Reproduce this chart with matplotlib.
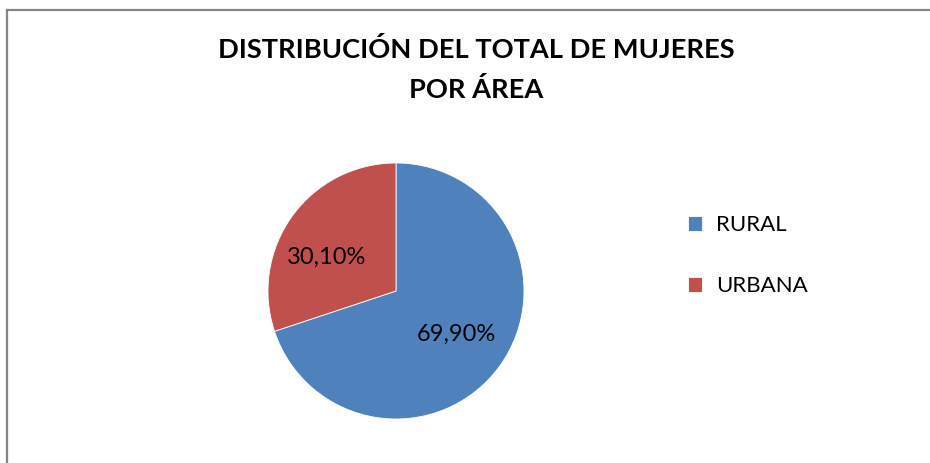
import matplotlib.pyplot as plt
from matplotlib.lines import Line2D

plt.rcParams['font.family'] = ['Lato', 'DejaVu Sans']

# Datos
areas = ['RURAL', 'URBANA']
porcentajes = [69.9, 30.1]
colores = ['#4F81BD', '#C0504D']

fig = plt.figure(figsize=(9.3, 4.63), dpi=100)
fig.patch.set_facecolor('white')

# borde del gráfico (sólo arriba e izquierda visibles)
fig.add_artist(Line2D([7 / 930, 1], [1 - 10 / 463, 1 - 10 / 463], color='#868686', lw=1.6))
fig.add_artist(Line2D([7 / 930, 7 / 930], [0, 1 - 10 / 463], color='#868686', lw=1.6))

# Título
fig.text(476 / 930, 1 - 50 / 463, 'DISTRIBUCIÓN DEL TOTAL DE MUJERES',
         ha='center', va='center', fontsize=19.6, fontweight='bold')
fig.text(476 / 930, 1 - 90 / 463, 'POR ÁREA',
         ha='center', va='center', fontsize=19.6, fontweight='bold')

# Pastel
ax = fig.add_axes([268 / 930, 1 - 419 / 463, 256 / 930, 256 / 463])
cunas, textos, autotextos = ax.pie(
    porcentajes, colors=colores, startangle=90, counterclock=False,
    autopct=lambda p: f'{p:.2f}%'.replace('.', ','), pctdistance=0.58,
    wedgeprops=dict(edgecolor='white', linewidth=0.6),
    textprops=dict(fontsize=17, color='black'))
# etiqueta de URBANA un poco más abajo, como en Excel
autotextos[1].set_position((-0.54, 0.26))
ax.set_xlim(-1, 1)
ax.set_ylim(-1, 1)
ax.set_aspect('equal')

ax.legend(cunas, areas, loc='upper left', bbox_to_anchor=(688 / 930, 1 - 215 / 463),
          bbox_transform=fig.transFigure, frameon=False, fontsize=16,
          handlelength=0.65, handleheight=0.65, handletextpad=0.6,
          labelspacing=1.85, borderpad=0, borderaxespad=0)

fig.savefig('out.png', dpi=100, facecolor='white')
